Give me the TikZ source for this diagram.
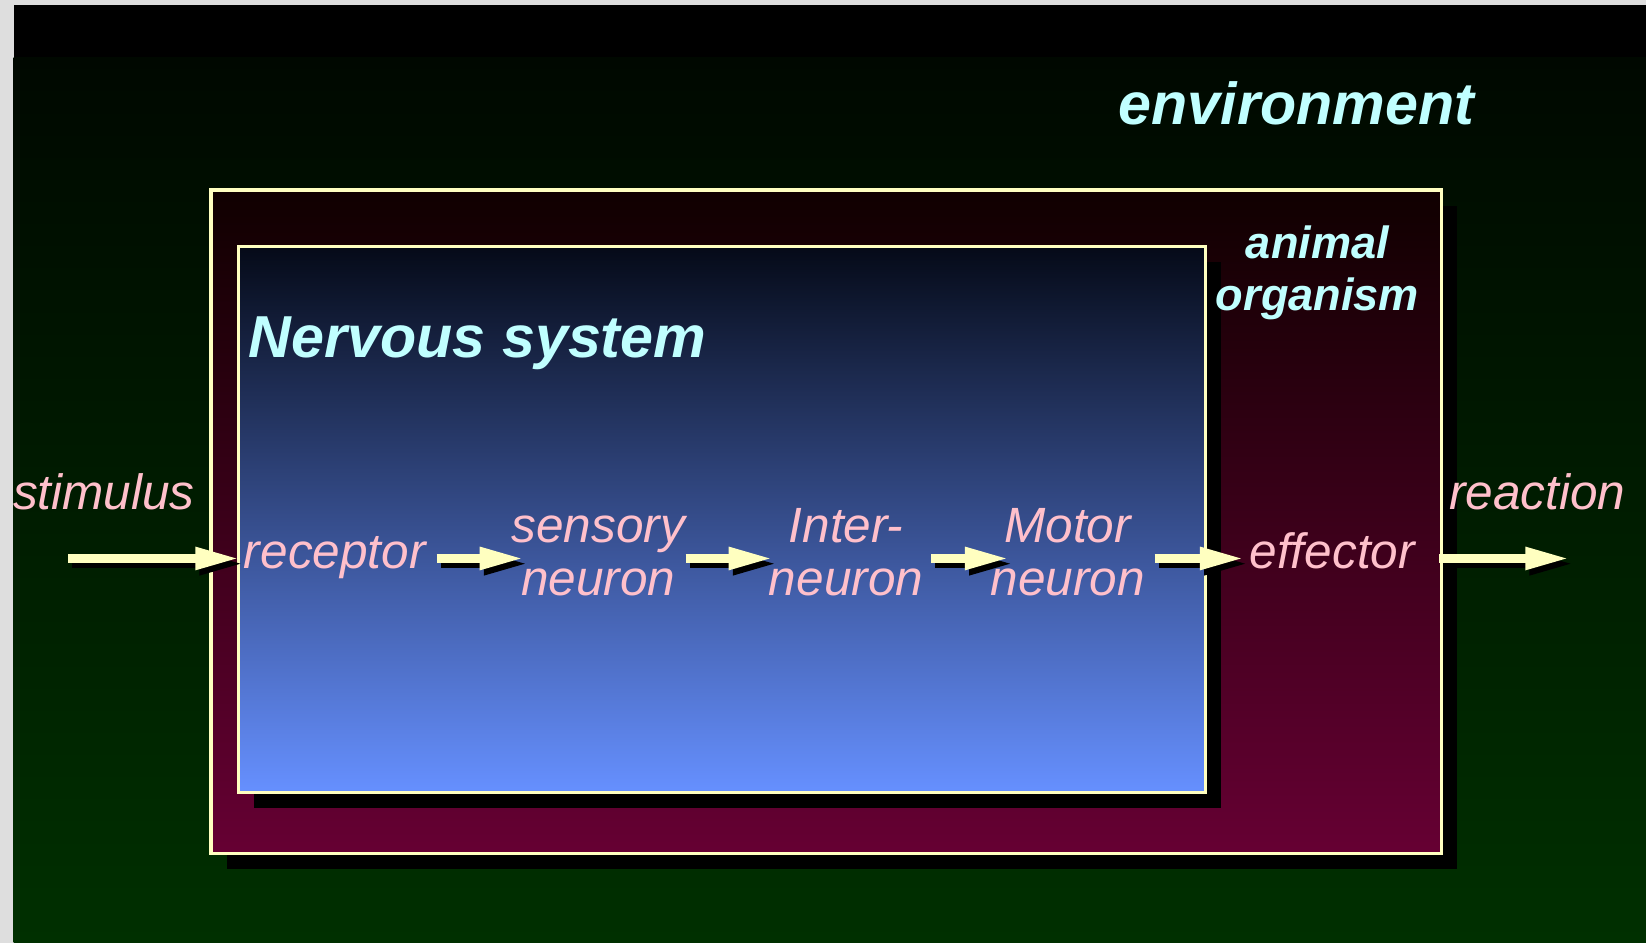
\documentclass[tikz,border=0pt]{standalone}
\usepackage{fontspec}
\setmainfont{Liberation Sans}
\usetikzlibrary{arrows.meta,shadows}
\definecolor{bggray}{HTML}{DEDEDE}
\definecolor{grtop}{HTML}{000800}
\definecolor{grbot}{HTML}{003000}
\definecolor{rdtop}{HTML}{100000}
\definecolor{rdbot}{HTML}{660033}
\definecolor{bltop}{HTML}{050A18}
\definecolor{blmid}{HTML}{4262AE}
\definecolor{blbot}{HTML}{6690FF}
\definecolor{lyel}{HTML}{FFFFC0}
\definecolor{cyant}{HTML}{C0FFFF}
\definecolor{pinkt}{HTML}{FFC0CB}
\begin{document}
\begin{tikzpicture}[x=0.5pt,y=-0.5pt,
  panel/.style={draw=lyel, line width=1.5pt, inner sep=0pt,
    drop shadow={shadow xshift=7.5pt, shadow yshift=-7.5pt, fill=black, opacity=1}},
  title/.style={text=cyant, inner sep=0pt, font=\fontsize{28.2}{30}\selectfont\bfseries\itshape},
  sub/.style={text=cyant, inner sep=0pt, align=center, font=\fontsize{21.5}{25}\selectfont\bfseries\itshape},
  lbl/.style={text=pinkt, inner sep=0pt, align=center, font=\fontsize{23.6}{25}\selectfont\itshape},
  flow/.style={draw=lyel, line width=4pt, -{Triangle[length=21pt,width=10pt]}},
  flowshadow/.style={draw=black, line width=4pt, -{Triangle[length=21pt,width=10pt]},
    transform canvas={shift={(2pt,-2.5pt)}}}
]
\useasboundingbox (0,0) rectangle (1568,898);
% background
\fill[bggray] (0,0) rectangle (1568,898);
\fill[black] (13,5) rectangle (1568,55);
\shade[top color=grtop, bottom color=grbot] (13,55) rectangle (1568,898);
% boxes
\node[panel, top color=rdtop, bottom color=rdbot, minimum width=586pt, minimum height=316pt] (org) at (787,497) {};
\node[panel, top color=bltop, middle color=blmid, bottom color=blbot, minimum width=460.5pt, minimum height=260pt] (ns) at (687.5,495) {};
% titles
\node[title, anchor=base] (env) at (1235,119) {environment};
\node[title, anchor=base] (nstitle) at (455,341) {Nervous system};
\node[sub] (animal) at (1255,261) {\strut animal\\\strut organism};
% labels
\node[lbl, anchor=west] (stim) at (12,475) {\strut stimulus};
\node[lbl, anchor=west] (react) at (1380,475) {\strut reaction};
\node[lbl, anchor=west] (rec) at (232,532) {\strut receptor};
\node[lbl] (sens) at (570,532) {\strut sensory\\\strut neuron};
\node[lbl] (inter) at (806,532) {\strut Inter-\\\strut neuron};
\node[lbl] (motor) at (1017,532) {\strut Motor\\\strut neuron};
\node[lbl, anchor=west] (eff) at (1190,532) {\strut effector};
\coordinate (sIn) at (65,532);
\coordinate (rOut) at (1495,532);
% arrows
\foreach \a/\b/\s/\e in {sIn/rec/0pt/2pt, rec/sens/5pt/-6pt, sens/inter/0pt/-2pt, inter/motor/3.5pt/-9pt, motor/eff/4.5pt/2.5pt, eff/rOut/11.5pt/0pt}{
  \draw[flowshadow, shorten <=\s, shorten >=\e] (\a) -- (\b);
  \draw[flow, shorten <=\s, shorten >=\e] (\a) -- (\b);
}
\end{tikzpicture}
\end{document}
